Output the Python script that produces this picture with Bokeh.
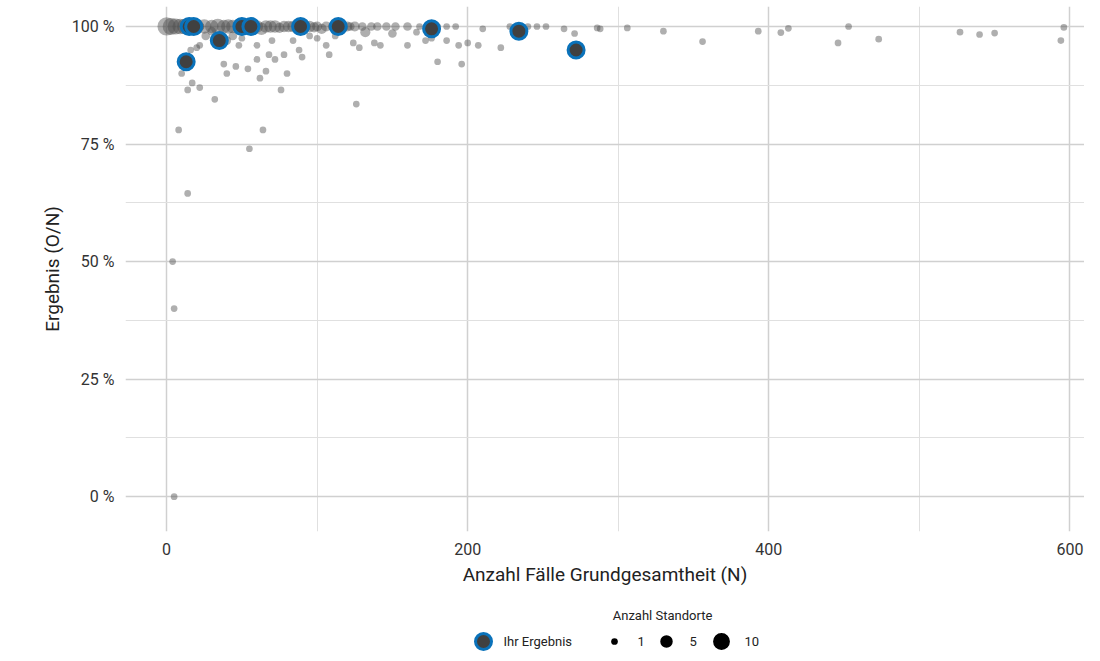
import numpy as np
from bokeh.plotting import figure
from bokeh.layouts import column
from bokeh.models import ColumnDataSource, FixedTicker, Range1d, NumeralTickFormatter
from bokeh.core.properties import value
from bokeh.embed import file_html
from bokeh.resources import INLINE

FONT = "Roboto"

# all sites: cases N, result %, number of sites at that point
site_n = [0, 3, 6, 9, 12, 20, 25, 30, 38, 44, 60, 66, 72, 78, 84, 95, 100, 106, 120, 125,
          130, 136, 140, 146, 152, 160, 168, 180, 186, 192, 210, 228, 240, 246, 252, 264,
          286, 306, 330, 393, 408, 413, 453, 527, 540, 550, 596,
          16, 20, 22, 10, 14, 17, 8, 14, 4, 5, 5, 22, 32, 38, 40, 46, 48, 54, 55, 60, 62,
          64, 66, 68, 72, 76, 78, 80, 84, 88, 90, 95, 100, 106, 108, 124, 126, 128, 138,
          142, 160, 172, 180, 186, 194, 196, 200, 207, 222, 271, 288, 356, 446, 473, 594,
          70, 60, 50, 40, 44, 26, 30, 150, 132, 112, 116, 166, 176,
          16, 23, 34, 41, 53, 57, 63, 69, 75, 81, 87, 92, 98, 103, 110, 117, 122]
site_result = [100, 100, 100, 100, 100, 100, 100, 100, 100, 100, 100, 100, 100, 100, 100,
               100, 100, 100, 100, 100, 100, 100, 100, 100, 100, 100, 100, 100, 100, 100,
               99.5, 100, 100, 100, 100, 99.5, 99.7, 99.7, 99, 99, 98.7, 99.6, 100, 98.8,
               98.3, 98.6, 99.8,
               95, 95.5, 96, 90, 86.5, 88, 78, 64.5, 50, 40, 0, 87, 84.5, 92, 90, 91.5, 96,
               91, 74, 93, 89, 78, 90.5, 94, 93, 86.5, 94, 90, 97, 95, 93.5, 98, 97.5, 96,
               94, 96.5, 83.5, 95.5, 96.5, 96, 96, 97, 92.5, 97, 96, 92, 96.5, 96, 95.5,
               98.5, 99.5, 96.8, 96.5, 97.3, 97,
               97, 96, 97.5, 97, 98, 98, 99, 98.5, 98.8, 98, 99, 98.8, 97.5,
               100, 100, 100, 100, 100, 100, 99.5, 100, 99.7, 100, 99.6, 100, 99.8, 99.5,
               100, 99.7, 100]
site_count = [12, 10, 9, 8, 8, 7, 7, 6, 6, 6, 5, 5, 5, 4, 4, 4, 3, 3, 3, 3,
              2, 2, 2, 2, 2, 2, 1, 1, 1, 1, 1, 1, 1, 1, 1, 1, 1, 1, 1, 1, 1, 1, 1, 1, 1, 1, 1] \
    + [1] * 57 + [1, 2, 2, 2, 2, 2, 3, 1, 1, 1, 1, 1, 1] \
    + [8, 7, 6, 6, 5, 5, 3, 4, 3, 4, 3, 3, 2, 3, 2, 2, 2]

# own results
own_n = [13, 15, 18, 35, 50, 56, 89, 114, 176, 234, 272]
own_result = [92.5, 100, 100, 97, 100, 100, 100, 100, 99.5, 99, 95]

legend_counts = [1, 5, 10]


def dot_size(n):
    return 2 + 4.7 * np.sqrt(np.asarray(n, dtype=float))


src = ColumnDataSource(data=dict(x=site_n, y=np.array(site_result) / 100,
                                 s=dot_size(site_count)))

p = figure(width=1084, height=588, output_backend="svg", toolbar_location=None, tools="",
           x_range=Range1d(-27.3, 609.7), y_range=Range1d(-0.074, 1.0425),
           x_axis_label="Anzahl Fälle Grundgesamtheit (N)", y_axis_label="Ergebnis (O/N)",
           min_border_left=125, min_border_right=0, min_border_top=6)
p.outline_line_color = None
p.xaxis.ticker = FixedTicker(ticks=[0, 200, 400, 600], minor_ticks=[100, 300, 500])
p.yaxis.ticker = FixedTicker(ticks=[0, 0.25, 0.5, 0.75, 1.0],
                             minor_ticks=[0.125, 0.375, 0.625, 0.875])
p.yaxis.formatter = NumeralTickFormatter(format="0 %")
for ax in (p.xaxis, p.yaxis):
    ax.axis_line_color = None
    ax.major_tick_line_color = None
    ax.minor_tick_line_color = None
    ax.major_label_text_font = FONT
    ax.major_label_text_font_size = "16px"
    ax.major_label_text_color = "#333333"
    ax.axis_label_text_font = FONT
    ax.axis_label_text_font_size = "19px"
    ax.axis_label_text_font_style = "normal"
    ax.axis_label_text_color = "#222222"
for g in (p.xgrid, p.ygrid):
    g.grid_line_color = "#d0d0d0"
    g.grid_line_width = 1.5
    g.minor_grid_line_color = "#e0e0e0"

p.scatter("x", "y", size="s", source=src, fill_color="#4d4d4d", fill_alpha=0.45,
          line_color=None)
p.scatter(own_n, np.array(own_result) / 100, size=16, fill_color="#404040",
          line_color="#0a72ba", line_width=3)

# legend panel (frame aligned with the main plot, coordinates are pixels)
lg = figure(width=1084, height=63, output_backend="svg", toolbar_location=None, tools="",
            x_range=Range1d(125, 1084), y_range=Range1d(0, 63), min_border=0,
            min_border_left=125, x_axis_location=None, y_axis_location=None)
lg.grid.visible = False
lg.outline_line_color = None
lg.text([662], [36], text=["Anzahl Standorte"], text_font=value(FONT), text_font_size="13px",
        text_align="center", text_baseline="middle", text_color="#222222")
lg.scatter([483], [10], size=16, fill_color="#404040", line_color="#0a72ba", line_width=3)
lg.text([503], [10], text=["Ihr Ergebnis"], text_font=value(FONT), text_font_size="13px",
        text_baseline="middle", text_color="#222222")
lx = [614, 666, 721]
lg.scatter(lx, [10] * 3, size=dot_size(legend_counts), fill_color="black", line_color=None)
lg.text([x + 23 for x in lx], [10] * 3, text=[str(c) for c in legend_counts],
        text_font=value(FONT), text_font_size="13px", text_baseline="middle",
        text_color="#222222")

layout = column(p, lg, spacing=0)
open("out.html", "w").write(file_html(layout, INLINE))
